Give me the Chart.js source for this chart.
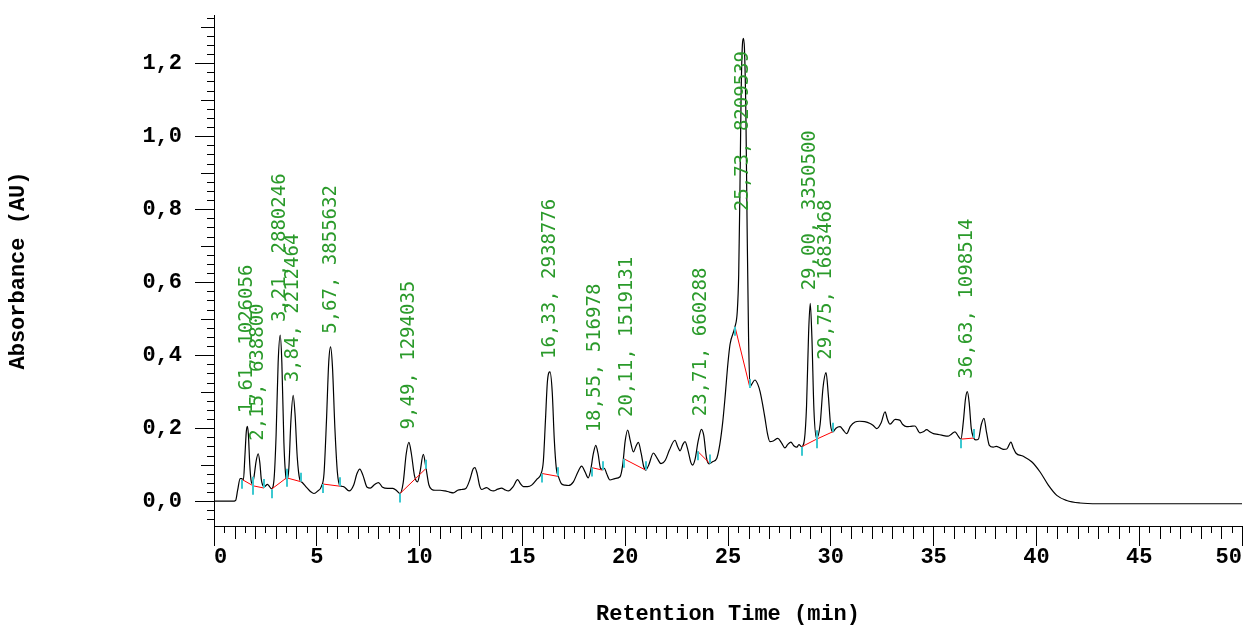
<!DOCTYPE html>
<html>
<head>
<meta charset="utf-8">
<title>Chromatogram</title>
<script src="https://cdn.jsdelivr.net/npm/chart.js@4.4.1/dist/chart.umd.min.js"></script>
<style>
  html, body { margin: 0; padding: 0; background: #fff; }
  #wrap { width: 1243px; height: 626px; }
</style>
</head>
<body>
<div id="wrap"><canvas id="myChart-Chrom" width="1243" height="626"></canvas></div>
<script>
// trace: retention time (min) / absorbance (AU)
const curveTimes = [
  0, 0.9, 1.05, 1.15, 1.27, 1.35, 1.43, 1.50, 1.57, 1.62, 1.67, 1.74, 1.80, 1.86, 1.94, 2.05, 2.15, 2.23, 2.30, 2.36,
  2.45, 2.6, 2.70, 2.80, 2.92, 3.02, 3.12, 3.22, 3.30, 3.40, 3.50, 3.55, 3.64, 3.74, 3.85, 3.94, 4.05, 4.17, 4.28, 4.5,
  4.7, 4.86, 5.05, 5.22, 5.35, 5.47, 5.58, 5.67, 5.76, 5.88, 6.0, 6.12, 6.3, 6.57, 6.8, 6.95, 7.09, 7.25, 7.45, 7.6,
  7.8, 8.0, 8.2, 8.45, 8.7, 8.9, 9.05, 9.2, 9.35, 9.48, 9.6, 9.75, 9.9, 10.02, 10.18, 10.3, 10.45, 10.6, 10.75, 11.0,
  11.24, 11.45, 11.64, 11.85, 12.04, 12.25, 12.45, 12.6, 12.69, 12.8, 12.92, 13.02, 13.26, 13.45, 13.59, 13.8, 13.99, 14.15, 14.32, 14.55,
  14.77, 14.9, 15.05, 15.25, 15.45, 15.7, 15.9, 16.02, 16.12, 16.22, 16.34, 16.45, 16.55, 16.65, 16.75, 16.91, 17.07, 17.24, 17.48, 17.7,
  17.88, 18.05, 18.2, 18.32, 18.45, 18.57, 18.68, 18.8, 18.9, 18.99, 19.1, 19.26, 19.5, 19.75, 19.88, 20.0, 20.12, 20.25, 20.4, 20.52,
  20.64, 20.78, 20.9, 21.0, 21.15, 21.37, 21.55, 21.74, 21.95, 22.15, 22.42, 22.55, 22.67, 22.8, 22.91, 23.05, 23.2, 23.28, 23.4, 23.55,
  23.71, 23.82, 23.95, 24.08, 24.25, 24.45, 24.6, 24.75, 24.85, 25.0, 25.1, 25.34, 25.45, 25.52, 25.58, 25.64, 25.70, 25.75, 25.80, 25.87,
  25.93, 26.0, 26.07, 26.15, 26.31, 26.45, 26.56, 26.7, 26.8, 26.92, 27.04, 27.2, 27.42, 27.6, 27.77, 27.9, 28.06, 28.2, 28.35, 28.45,
  28.58, 28.72, 28.82, 28.92, 29.0, 29.08, 29.18, 29.31, 29.48, 29.62, 29.77, 29.88, 29.99, 30.1, 30.25, 30.45, 30.6, 30.77, 30.95, 31.18,
  31.4, 31.65, 31.91, 32.05, 32.23, 32.45, 32.64, 32.75, 32.88, 33.13, 33.35, 33.5, 33.69, 33.9, 34.09, 34.34, 34.5, 34.66, 34.82, 34.99,
  35.2, 35.39, 35.7, 35.85, 36.04, 36.2, 36.33, 36.45, 36.55, 36.64, 36.73, 36.83, 36.93, 37.05, 37.18, 37.32, 37.45, 37.57, 37.71, 37.9,
  38.05, 38.23, 38.4, 38.56, 38.76, 38.88, 39.0, 39.36, 39.77, 40.18, 40.58, 40.99, 41.47, 42.12, 43, 50
];
const curveAbs = [
  0, 0, 0.002, 0.03, 0.062, 0.062, 0.058, 0.12, 0.19, 0.205, 0.185, 0.10, 0.058, 0.048, 0.065, 0.11, 0.13, 0.105, 0.06, 0.045,
  0.040, 0.046, 0.040, 0.034, 0.06, 0.18, 0.38, 0.455, 0.38, 0.16, 0.065, 0.058, 0.09, 0.22, 0.29, 0.24, 0.12, 0.06, 0.052, 0.038,
  0.026, 0.021, 0.028, 0.04, 0.075, 0.22, 0.38, 0.423, 0.37, 0.2, 0.08, 0.043, 0.040, 0.028, 0.045, 0.075, 0.088, 0.07, 0.038, 0.036,
  0.045, 0.051, 0.038, 0.035, 0.035, 0.028, 0.021, 0.05, 0.13, 0.161, 0.13, 0.07, 0.053, 0.08, 0.128, 0.095, 0.045, 0.032, 0.03, 0.03,
  0.028, 0.025, 0.023, 0.03, 0.032, 0.035, 0.06, 0.088, 0.092, 0.075, 0.042, 0.032, 0.037, 0.03, 0.028, 0.033, 0.036, 0.031, 0.028, 0.04,
  0.059, 0.048, 0.040, 0.040, 0.044, 0.06, 0.074, 0.11, 0.22, 0.33, 0.354, 0.30, 0.17, 0.09, 0.068, 0.047, 0.044, 0.043, 0.053, 0.08,
  0.096, 0.08, 0.064, 0.085, 0.13, 0.153, 0.13, 0.09, 0.087, 0.09, 0.075, 0.058, 0.062, 0.067, 0.1, 0.165, 0.195, 0.165, 0.135, 0.15,
  0.161, 0.13, 0.095, 0.085, 0.1, 0.132, 0.118, 0.103, 0.112, 0.14, 0.167, 0.15, 0.138, 0.155, 0.163, 0.14, 0.105, 0.099, 0.115, 0.165,
  0.197, 0.18, 0.12, 0.102, 0.108, 0.117, 0.155, 0.22, 0.28, 0.38, 0.43, 0.478, 0.519, 0.62, 0.85, 1.12, 1.25, 1.268, 1.24, 1.06,
  0.75, 0.45, 0.313, 0.32, 0.332, 0.32, 0.30, 0.26, 0.227, 0.185, 0.163, 0.165, 0.172, 0.16, 0.146, 0.155, 0.162, 0.152, 0.148, 0.155,
  0.149, 0.17, 0.26, 0.46, 0.542, 0.45, 0.25, 0.172, 0.21, 0.31, 0.352, 0.29, 0.208, 0.19, 0.2, 0.204, 0.195, 0.185, 0.205, 0.217,
  0.219, 0.218, 0.213, 0.208, 0.199, 0.215, 0.245, 0.225, 0.211, 0.224, 0.222, 0.21, 0.204, 0.205, 0.206, 0.187, 0.19, 0.196, 0.19, 0.185,
  0.183, 0.181, 0.178, 0.183, 0.19, 0.178, 0.17, 0.22, 0.28, 0.30, 0.27, 0.2, 0.176, 0.168, 0.17, 0.21, 0.227, 0.19, 0.153, 0.148,
  0.15, 0.146, 0.142, 0.143, 0.162, 0.145, 0.132, 0.123, 0.108, 0.080, 0.044, 0.016, 0.002, -0.005, -0.007, -0.007
];

// integrated peaks: retention time, area, baseline start/end
const peakTimes = [1.61, 2.15, 3.21, 3.84, 5.67, 9.49, 16.33, 18.55, 20.11, 23.71, 25.73, 29.00, 29.75, 36.63];
const peakAreas = [1026056, 638800, 2880246, 2212464, 3855632, 1294035, 2938776, 516978, 1519131, 660288, 8209539, 3350500, 1683468, 1098514];
const baseStartT = [1.38, 1.91, 2.80, 3.53, 5.30, 9.05, 15.94, 18.37, 19.94, 23.52, 25.34, 28.58, 29.31, 36.33];
const baseStartV = [0.059, 0.042, 0.033, 0.064, 0.047, 0.021, 0.076, 0.092, 0.116, 0.137, 0.478, 0.149, 0.170, 0.170];
const baseEndT = [1.91, 2.43, 3.53, 4.25, 6.13, 10.30, 16.73, 18.90, 21.00, 24.12, 26.07, 29.31, 30.09, 36.96];
const baseEndV = [0.042, 0.036, 0.064, 0.053, 0.041, 0.089, 0.068, 0.085, 0.085, 0.103, 0.310, 0.170, 0.190, 0.173];

const xTickValues = [0, 5, 10, 15, 20, 25, 30, 35, 40, 45, 50];
const yTickValues = [0, 0.2, 0.4, 0.6, 0.8, 1.0, 1.2];

const axisFont = { family: "'Liberation Mono', 'Courier New', monospace", size: 22, weight: 'bold' };

// apex height near each labelled retention time
function apexOf(t) {
  let best = 0;
  curveTimes.forEach((ct, i) => {
    if (Math.abs(ct - t) <= 0.15 && curveAbs[i] > best) best = curveAbs[i];
  });
  return best;
}

const tracePoints = curveTimes.map((t, i) => ({ x: t, y: curveAbs[i] }));

const baselinePoints = [];
peakTimes.forEach((t, i) => {
  baselinePoints.push({ x: baseStartT[i], y: baseStartV[i] });
  baselinePoints.push({ x: baseEndT[i], y: baseEndV[i] });
  baselinePoints.push({ x: baseEndT[i], y: null });
});

// 0.5 min / 0.025 AU ticks between the labelled ones
const minorTicks = {
  id: 'minorTicks',
  afterDraw(chart) {
    const { ctx, scales: { x, y } } = chart;
    ctx.save();
    ctx.strokeStyle = '#000';
    ctx.lineWidth = 1;
    ctx.beginPath();
    for (let i = 0; i <= 100; i++) {
      if (i % 10 === 0) continue;
      const px = Math.round(x.getPixelForValue(i / 2)) + 0.5;
      const len = i % 2 === 0 ? 13 : 7;
      ctx.moveTo(px, x.top);
      ctx.lineTo(px, x.top + len);
    }
    for (let j = -2; j <= 53; j++) {
      if (j % 8 === 0) continue;
      const py = Math.round(y.getPixelForValue(j * 0.025)) + 0.5;
      const len = j % 4 === 0 ? 13 : 7;
      ctx.moveTo(y.right - len, py);
      ctx.lineTo(y.right, py);
    }
    ctx.stroke();
    ctx.restore();
  }
};

// cyan start/end marks and the rotated "time, area" labels
const peakMarks = {
  id: 'peakMarks',
  afterDatasetsDraw(chart) {
    const { ctx, chartArea, scales: { x, y } } = chart;
    ctx.save();
    ctx.strokeStyle = '#3cc8d0';
    ctx.lineWidth = 2;
    ctx.beginPath();
    peakTimes.forEach((t, i) => {
      const sx = Math.round(x.getPixelForValue(baseStartT[i]));
      const sy = y.getPixelForValue(baseStartV[i]);
      ctx.moveTo(sx, sy);
      ctx.lineTo(sx, sy + 9);
      const ex = Math.round(x.getPixelForValue(baseEndT[i]));
      const ey = y.getPixelForValue(baseEndV[i]);
      ctx.moveTo(ex, ey);
      ctx.lineTo(ex, ey - 9);
    });
    ctx.stroke();

    ctx.font = '19px "DejaVu Sans Mono", monospace';
    ctx.fillStyle = '#2a9a2a';
    ctx.textAlign = 'left';
    ctx.textBaseline = 'middle';
    peakTimes.forEach((t, i) => {
      const text = t.toFixed(2).replace('.', ',') + ', ' + peakAreas[i];
      const w = ctx.measureText(text).width;
      const px = x.getPixelForValue(t);
      const py = Math.max(y.getPixelForValue(apexOf(t)) - 13, chartArea.top + 36 + w);
      ctx.save();
      ctx.translate(px, py);
      ctx.rotate(-Math.PI / 2);
      ctx.fillText(text, 0, 0);
      ctx.restore();
    });
    ctx.restore();
  }
};

const ctx = document.getElementById('myChart-Chrom');

new Chart(ctx, {
  type: 'line',
  data: {
    datasets: [
      {
        data: baselinePoints,
        borderColor: '#ff0000',
        borderWidth: 1,
        pointRadius: 0,
        spanGaps: false
      },
      {
        data: tracePoints,
        borderColor: '#000',
        borderWidth: 1.2,
        pointRadius: 0,
        fill: false,
        cubicInterpolationMode: 'monotone'
      }
    ]
  },
  options: {
    responsive: false,
    devicePixelRatio: 1,
    animation: false,
    layout: { padding: { top: 15, right: 1, left: 0, bottom: 0 } },
    plugins: {
      legend: { display: false },
      tooltip: { enabled: false }
    },
    scales: {
      x: {
        type: 'linear',
        min: 0,
        max: 50,
        afterBuildTicks: (scale) => { scale.ticks = xTickValues.map(v => ({ value: v })); },
        afterFit: (scale) => {
          scale.height = 100;
          scale.paddingLeft = 0;
          scale.paddingRight = 0;
        },
        border: { display: true, color: '#000', width: 1 },
        grid: { drawOnChartArea: false, drawTicks: true, tickLength: 20, tickColor: '#000' },
        ticks: {
          color: '#000',
          font: axisFont,
          padding: -2,
          align: 'inner',
          maxRotation: 0,
          callback: (v) => String(v)
        },
        title: {
          display: true,
          text: 'Retention Time (min)',
          color: '#000',
          font: axisFont,
          padding: { top: 0, bottom: -2 }
        }
      },
      y: {
        type: 'linear',
        min: -0.068,
        max: 1.332,
        afterBuildTicks: (scale) => { scale.ticks = yTickValues.map(v => ({ value: v })); },
        afterFit: (scale) => {
          scale.width = 214;
          scale.paddingTop = 0;
          scale.paddingBottom = 0;
        },
        border: { display: true, color: '#000', width: 1 },
        grid: { drawOnChartArea: false, drawTicks: true, tickLength: 19, tickColor: '#000' },
        ticks: {
          color: '#000',
          font: axisFont,
          padding: 13,
          callback: (v) => v.toFixed(1).replace('.', ',')
        },
        title: {
          display: true,
          text: 'Absorbance (AU)',
          color: '#000',
          font: axisFont,
          padding: { top: 5, bottom: 0 }
        }
      }
    }
  },
  plugins: [minorTicks, peakMarks]
});
</script>
</body>
</html>
